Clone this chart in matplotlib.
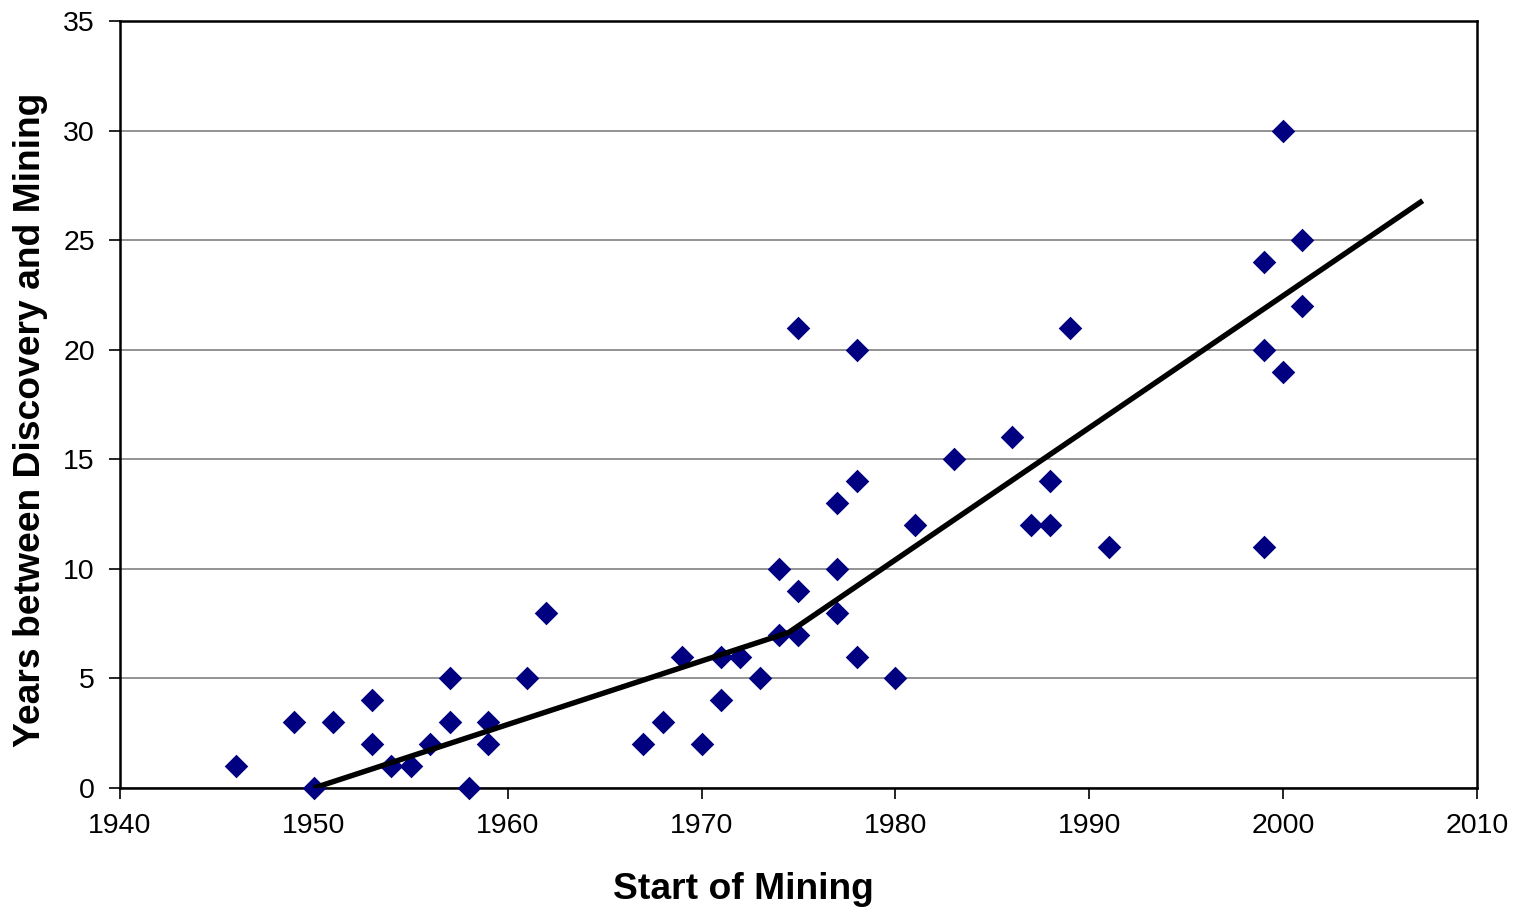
import matplotlib
matplotlib.use("Agg")
import matplotlib.pyplot as plt

plt.rcParams['font.family'] = ['Liberation Sans', 'DejaVu Sans']

# start of mining (year) and years between discovery and mining
start_year = [1946, 1949, 1950, 1951, 1953, 1953, 1954, 1955, 1956, 1957, 1957,
              1958, 1959, 1959, 1961, 1962, 1967, 1968, 1969, 1970, 1971, 1971,
              1972, 1973, 1974, 1974, 1975, 1975, 1975, 1977, 1977, 1977, 1978,
              1978, 1978, 1980, 1981, 1983, 1986, 1987, 1988, 1988, 1989, 1991,
              1999, 1999, 1999, 2000, 2000, 2001, 2001]
lag_years = [1, 3, 0, 3, 4, 2, 1, 1, 2, 5, 3,
             0, 3, 2, 5, 8, 2, 3, 6, 2, 6, 4,
             6, 5, 10, 7, 21, 9, 7, 13, 10, 8, 20,
             14, 6, 5, 12, 15, 16, 12, 14, 12, 21, 11,
             24, 20, 11, 30, 19, 25, 22]

# piecewise trend line
trend_x = [1950, 1974.5, 2007.2]
trend_y = [0, 7.1, 26.8]

fig = plt.figure(figsize=(15.17, 9.13), dpi=100)
ax = fig.add_axes([0.0791, 0.1369, 0.8945, 0.8401])

ax.scatter(start_year, lag_years, marker='D', s=12**2, color='#000080',
           zorder=3, linewidths=0, clip_on=False)
ax.plot(trend_x, trend_y, color='black', linewidth=3.9, zorder=4,
        solid_capstyle='butt')

ax.set_xlim(1940, 2010)
ax.set_ylim(0, 35)
ax.set_xticks(range(1940, 2011, 10))
ax.set_yticks(range(0, 36, 5))
ax.yaxis.grid(True, color='#808080', linewidth=1.2)
ax.set_axisbelow(True)

for s in ax.spines.values():
    s.set_linewidth(1.8)
    s.set_color('black')

ax.tick_params(axis='both', direction='out', length=8, width=1.2,
               labelsize=20.5, pad=10)

fig.text(0.4898, 0.0252, 'Start of Mining', fontsize=26.8, fontweight='bold',
         ha='center', va='center')
fig.text(0.0198, 0.54, 'Years between Discovery and Mining', fontsize=26.8,
         fontweight='bold', ha='center', va='center', rotation=90)

fig.savefig('out.png', dpi=100)
